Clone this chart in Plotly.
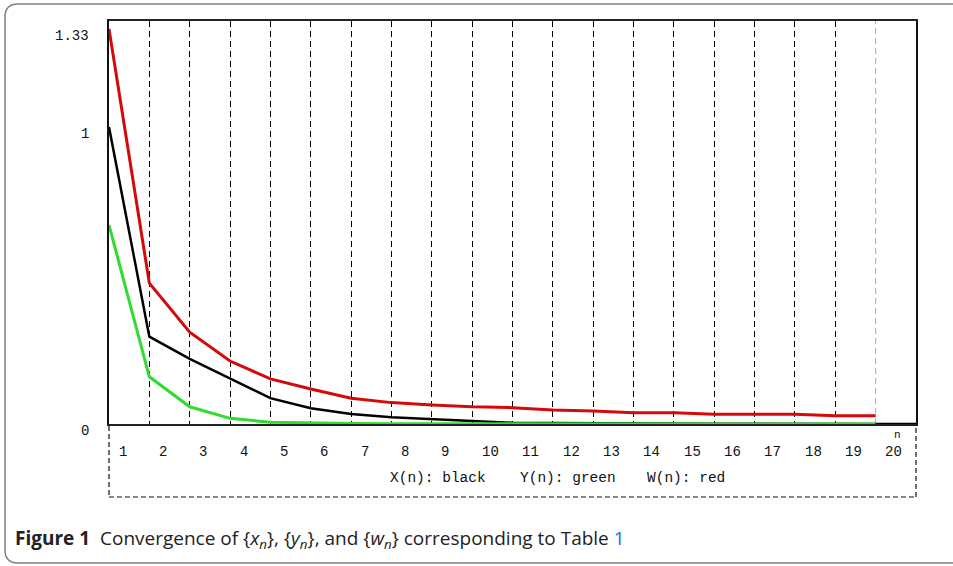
import plotly.graph_objects as go

# ---------------- data ----------------
n_black = list(range(1, 22))
x_black = [1.00, 0.294, 0.219, 0.152, 0.087, 0.053, 0.034, 0.023, 0.016, 0.011,
           0.004, 0.003, 0.002, 0.002, 0.001, 0.001, 0.001, 0.0, 0.0, 0.0, 0.0]
n_col = list(range(1, 21))
y_green = [0.670, 0.159, 0.058, 0.019, 0.006, 0.003, 0.002, 0.001, 0.001, 0.0,
           0.0, 0.0, 0.0, 0.0, 0.0, 0.0, 0.0, 0.0, 0.0, 0.0]
w_red = [1.33, 0.474, 0.309, 0.212, 0.152, 0.118, 0.087, 0.072, 0.064, 0.058,
         0.055, 0.047, 0.044, 0.038, 0.038, 0.033, 0.033, 0.033, 0.028, 0.028]
x_tick_labels = [str(i) for i in range(1, 21)]
y_tick_vals = [0, 1, 1.33]
y_tick_text = ["0", "1", "1.33"]
legend_items = ["X(n): black", "Y(n): green", "W(n): red"]

W, H = 953, 566
L, R, T, B = 109, 916, 21, 424
XR = [1, 21]
YR = [0, 1.357]

def px(xp):
    return (xp - L) / (R - L)

def py(yp):
    return (B - yp) / (B - T)

mono = "Liberation Mono"

fig = go.Figure()
fig.add_trace(go.Scatter(x=n_col, y=w_red, mode="lines",
                         line=dict(color="#d40a0a", width=3), cliponaxis=False))
fig.add_trace(go.Scatter(x=n_black, y=x_black, mode="lines",
                         line=dict(color="#000000", width=2.5), cliponaxis=False))
fig.add_trace(go.Scatter(x=n_col, y=y_green, mode="lines",
                         line=dict(color="#2fdc2f", width=3), cliponaxis=False))

annotations = []
for i, lab in enumerate(x_tick_labels):
    annotations.append(dict(x=i + 1 + 0.19, y=py(452), xref="x", yref="paper",
                            text=lab, showarrow=False, xanchor="left", yanchor="middle",
                            font=dict(family=mono, size=14, color="#111")))
for v, t in zip(y_tick_vals, y_tick_text):
    annotations.append(dict(x=px(91), y=v, xref="paper", yref="y", text=t,
                            showarrow=False, xanchor="right", yanchor="middle", yshift=-7,
                            font=dict(family=mono, size=14, color="#111")))
leg_x = [388, 518, 645]
for lx, t in zip(leg_x, legend_items):
    annotations.append(dict(x=px(lx), y=py(478), xref="paper", yref="paper", text=t,
                            showarrow=False, xanchor="left", yanchor="middle",
                            font=dict(family=mono, size=14.5, color="#111")))
annotations.append(dict(x=px(897), y=py(435), xref="paper", yref="paper", text="n",
                        showarrow=False, xanchor="center", yanchor="middle",
                        font=dict(family=mono, size=11, color="#111")))
annotations.append(dict(
    x=px(13), y=py(539), xref="paper", yref="paper", xanchor="left", yanchor="middle",
    showarrow=False,
    text="<b>Figure 1</b>  Convergence of {<i>x</i><sub><i>n</i></sub>}, {<i>y</i><sub><i>n</i></sub>}, "
         "and {<i>w</i><sub><i>n</i></sub>} corresponding to Table "
         "<span style='color:#2a5cff'>1</span>",
    font=dict(family="Open Sans", size=19, color="#222")))

shapes = []
# light gray last gridline
shapes.append(dict(type="line", xref="x", yref="paper", x0=20, x1=20, y0=0, y1=1,
                   line=dict(color="#aaaaaa", width=1, dash="6px,4px"), layer="below"))
# dashed box below plot
dash_box = dict(color="#111", width=1.2, dash="5px,3px")
shapes.append(dict(type="line", xref="paper", yref="paper", x0=0, x1=0,
                   y0=py(426), y1=py(497), line=dash_box))
shapes.append(dict(type="line", xref="paper", yref="paper", x0=0, x1=1,
                   y0=py(497), y1=py(497), line=dash_box))
shapes.append(dict(type="line", xref="paper", yref="paper", x0=1, x1=1,
                   y0=py(428), y1=py(497), line=dash_box))
# outer rounded frame
x0, x1, y0, y1, r = 5, 965, 4, 563, 13
path = (f"M {px(x0+r)} {py(y0)} L {px(x1)} {py(y0)} "
        f"M {px(x1)} {py(y1)} L {px(x0+r)} {py(y1)} "
        f"Q {px(x0)} {py(y1)} {px(x0)} {py(y1-r)} "
        f"L {px(x0)} {py(y0+r)} Q {px(x0)} {py(y0)} {px(x0+r)} {py(y0)}")
shapes.append(dict(type="path", xref="paper", yref="paper", path=path,
                   line=dict(color="#808080", width=1.5)))

fig.update_layout(
    width=W, height=H,
    margin=dict(l=L, r=W - R, t=T, b=H - B),
    paper_bgcolor="white", plot_bgcolor="white",
    showlegend=False,
    xaxis=dict(range=XR, tickvals=list(range(2, 20)), showticklabels=False,
               ticks="", showgrid=True, gridcolor="#000000", gridwidth=1,
               griddash="6px,4px", zeroline=False, showline=True,
               linecolor="#222", linewidth=1.5, mirror=True),
    yaxis=dict(range=YR, showticklabels=False, ticks="", showgrid=False,
               zeroline=False, showline=True, linecolor="#111", linewidth=1.5,
               mirror=True),
    annotations=annotations, shapes=shapes,
)

fig.write_html("out.html")
